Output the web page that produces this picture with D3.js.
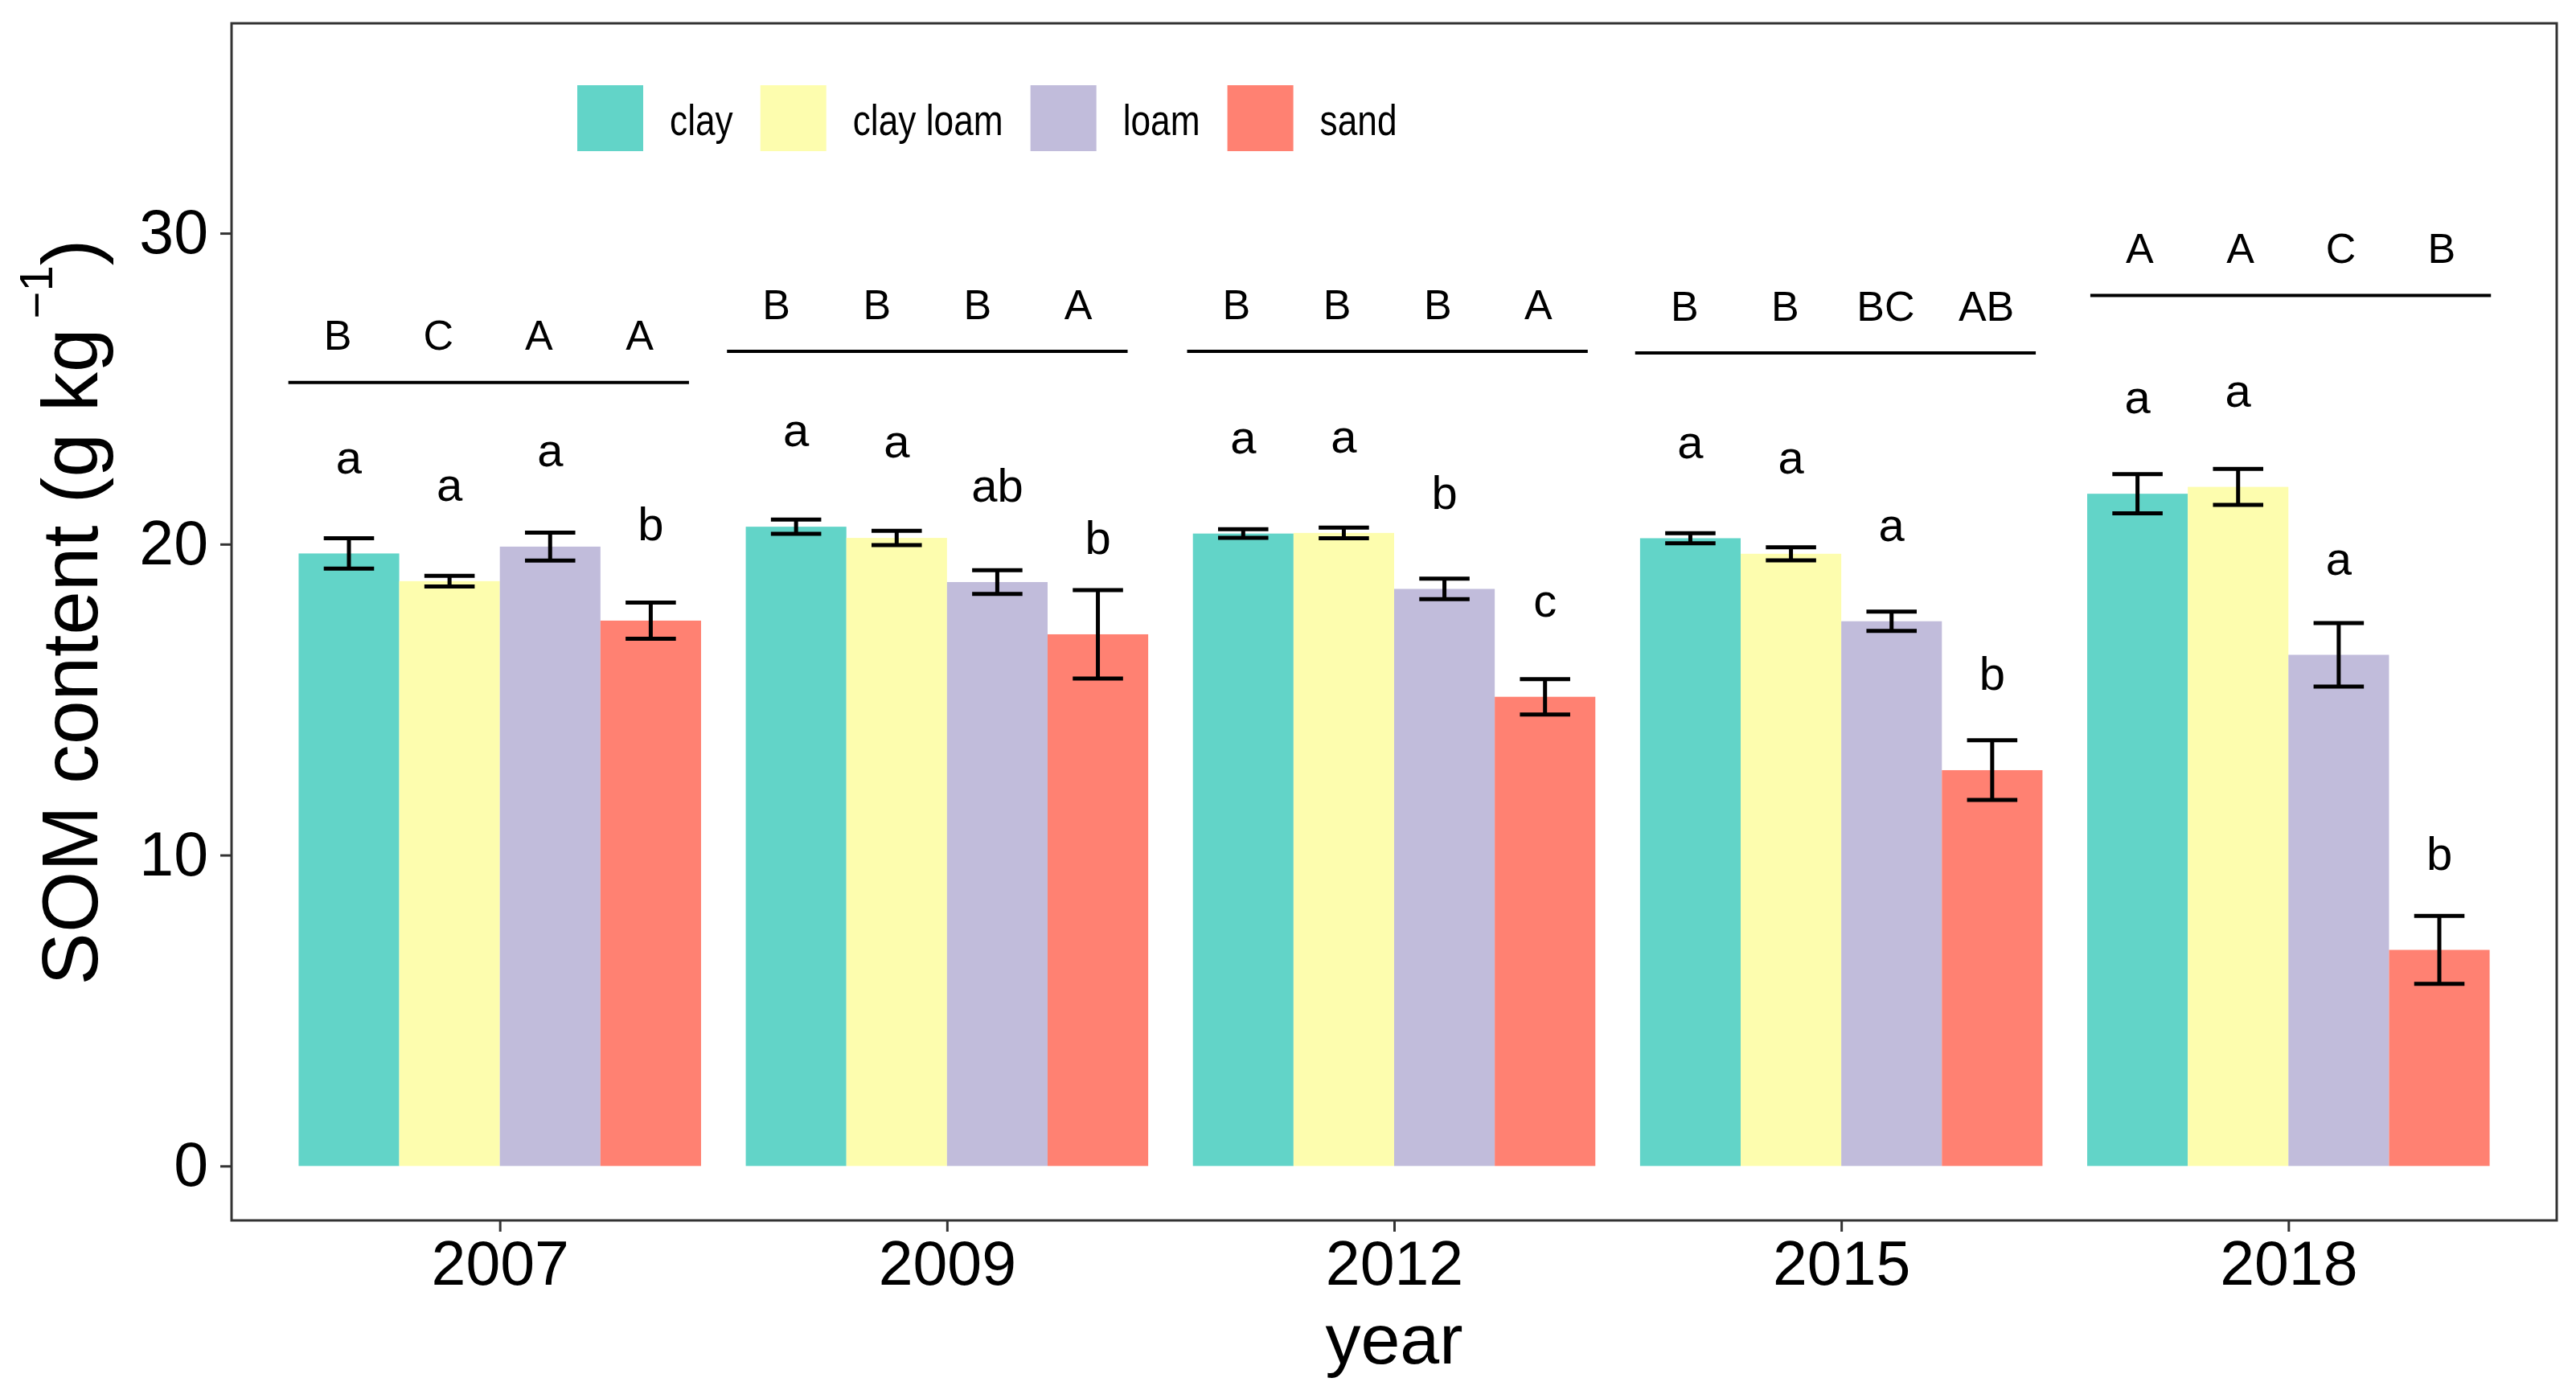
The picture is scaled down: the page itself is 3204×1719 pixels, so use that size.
<!DOCTYPE html>
<html>
<head>
<meta charset="utf-8">
<script src="https://cdn.jsdelivr.net/npm/d3@7"></script>
<style>
  body { margin: 0; background: #fff; }
  text { font-family: "Liberation Sans", Arial, sans-serif; fill: #000; }
</style>
</head>
<body>
<div id="chart"></div>
<script>
// Data
const years = ["2007", "2009", "2012", "2015", "2018"];
const textures = ["clay", "clay loam", "loam", "sand"];
const colors = ["#62D4C8", "#FDFDAE", "#C1BCDB", "#FF8172"];

// mean SOM per texture (one value per year)
const clayMean     = [19.70, 20.56, 20.34, 20.19, 21.62];
const clayLoamMean = [18.81, 20.20, 20.36, 19.69, 21.84];
const loamMean     = [19.92, 18.78, 18.56, 17.52, 16.44];
const sandMean     = [17.54, 17.10, 15.09, 12.73, 6.95];

// standard errors
const claySE     = [0.49, 0.23, 0.14, 0.16, 0.63];
const clayLoamSE = [0.17, 0.23, 0.17, 0.21, 0.58];
const loamSE     = [0.45, 0.38, 0.33, 0.31, 1.02];
const sandSE     = [0.58, 1.42, 0.57, 0.96, 1.09];

// letters within a year (lowercase) and between years (uppercase)
const lowerLetters = [
  ["a", "a", "a", "b"],
  ["a", "a", "ab", "b"],
  ["a", "a", "b", "c"],
  ["a", "a", "a", "b"],
  ["a", "a", "a", "b"]
];
const upperLetters = [
  ["B", "C", "A", "A"],
  ["B", "B", "B", "A"],
  ["B", "B", "B", "A"],
  ["B", "B", "BC", "AB"],
  ["A", "A", "C", "B"]
];
const lineLevel = [25.2, 26.2, 26.2, 26.15, 28.0];
// small horizontal nudge of each uppercase annotation block (in year units)
const annoShift = [-0.025, -0.044, -0.015, -0.013, 0.005];
const yTicks = [0, 10, 20, 30];

const means = [clayMean, clayLoamMean, loamMean, sandMean];
const ses = [claySE, clayLoamSE, loamSE, sandSE];

// Set up the chart dimensions and margins
const width = 3204;
const height = 1719;
const margin = { top: 29, right: 24, bottom: 201, left: 288 };

const svg = d3.select("#chart")
  .append("svg")
  .attr("width", width)
  .attr("height", height);

svg.append("rect").attr("width", width).attr("height", height).attr("fill", "#fff");

// scales
const x = d3.scalePoint()
  .domain(years)
  .range([margin.left, width - margin.right])
  .padding(0.6);
const step = x.step();

const xInner = d3.scaleBand()
  .domain(textures)
  .range([-0.45 * step, 0.45 * step]);

const y = d3.scaleLinear()
  .domain([-1.75, 36.75])
  .range([height - margin.bottom, margin.top]);

const rows = [];
years.forEach((yr, i) => {
  textures.forEach((t, j) => {
    rows.push({ year: yr, i: i, tex: t, j: j, mean: means[j][i], se: ses[j][i], low: lowerLetters[i][j], up: upperLetters[i][j] });
  });
});
const cx = d => x(d.year) + xInner(d.tex) + xInner.bandwidth() / 2;

// bars
svg.selectAll(".bar")
  .data(rows)
  .enter()
  .append("rect")
  .attr("class", "bar")
  .attr("x", d => x(d.year) + xInner(d.tex))
  .attr("y", d => y(d.mean))
  .attr("width", xInner.bandwidth())
  .attr("height", d => y(0) - y(d.mean))
  .attr("fill", d => colors[d.j]);

// error bars
const capHalf = xInner.bandwidth() * 0.25;
const err = svg.append("g").attr("stroke", "#000").attr("stroke-width", 5);
err.selectAll(".stem").data(rows).enter().append("line")
  .attr("x1", cx).attr("x2", cx)
  .attr("y1", d => y(d.mean + d.se)).attr("y2", d => y(d.mean - d.se));
err.selectAll(".capTop").data(rows).enter().append("line")
  .attr("x1", d => cx(d) - capHalf).attr("x2", d => cx(d) + capHalf)
  .attr("y1", d => y(d.mean + d.se)).attr("y2", d => y(d.mean + d.se));
err.selectAll(".capBot").data(rows).enter().append("line")
  .attr("x1", d => cx(d) - capHalf).attr("x2", d => cx(d) + capHalf)
  .attr("y1", d => y(d.mean - d.se)).attr("y2", d => y(d.mean - d.se));

// lowercase letters above the bars
svg.selectAll(".low").data(rows).enter().append("text")
  .attr("x", cx)
  .attr("y", d => y(d.mean + 2.58))
  .attr("text-anchor", "middle")
  .attr("font-size", 58)
  .text(d => d.low);

// group lines with uppercase letters
svg.selectAll(".grpline").data(years).enter().append("line")
  .attr("x1", (d, i) => x(d) + (annoShift[i] - 0.448) * step)
  .attr("x2", (d, i) => x(d) + (annoShift[i] + 0.448) * step)
  .attr("y1", (d, i) => y(lineLevel[i]))
  .attr("y2", (d, i) => y(lineLevel[i]))
  .attr("stroke", "#000")
  .attr("stroke-width", 4);

svg.selectAll(".up").data(rows).enter().append("text")
  .attr("x", d => cx(d) + annoShift[d.i] * step)
  .attr("y", d => y(lineLevel[d.i] + 1.04))
  .attr("text-anchor", "middle")
  .attr("font-size", 52)
  .text(d => d.up);

// axes
const yAxis = svg.append("g")
  .attr("transform", `translate(${margin.left},0)`)
  .call(d3.axisLeft(y).tickValues(yTicks).tickSize(14).tickPadding(15));
const xAxis = svg.append("g")
  .attr("transform", `translate(0,${height - margin.bottom})`)
  .call(d3.axisBottom(x).tickSize(14).tickPadding(11));
[yAxis, xAxis].forEach(a => {
  a.select(".domain").remove();
  a.selectAll(".tick line").attr("stroke", "#333").attr("stroke-width", 3);
  a.selectAll(".tick text").attr("font-size", 77).attr("fill", "#000")
    .style("font-family", '"Liberation Sans", Arial, sans-serif');
});

// panel border
svg.append("rect")
  .attr("x", margin.left)
  .attr("y", margin.top)
  .attr("width", width - margin.left - margin.right)
  .attr("height", height - margin.top - margin.bottom)
  .attr("fill", "none")
  .attr("stroke", "#333")
  .attr("stroke-width", 3);

// axis titles
svg.append("text")
  .attr("x", (margin.left + width - margin.right) / 2)
  .attr("y", 1696)
  .attr("text-anchor", "middle")
  .attr("font-size", 88)
  .text("year");

const yTitle = svg.append("text")
  .attr("transform", `translate(121,${(margin.top + height - margin.bottom) / 2 - 12}) rotate(-90)`)
  .attr("text-anchor", "middle")
  .attr("font-size", 98);
yTitle.append("tspan").text("SOM content (g kg");
yTitle.append("tspan").attr("font-size", 58).attr("dx", 12).attr("dy", -56).text("\u22121");
yTitle.append("tspan").attr("dy", 56).text(")");

// legend
const legend = svg.append("g").attr("transform", "translate(718,106)");
let lx = 0;
textures.forEach((t, j) => {
  legend.append("rect")
    .attr("x", lx).attr("y", 0)
    .attr("width", 82).attr("height", 82)
    .attr("fill", colors[j]);
  const tx = lx + 82 + 33;
  const txt = legend.append("text")
    .attr("transform", `translate(${tx},62) scale(0.82,1)`)
    .attr("font-size", 54)
    .text(t);
  const w = txt.node().getComputedTextLength() * 0.82;
  lx = tx + w + 34;
});
</script>
</body>
</html>
